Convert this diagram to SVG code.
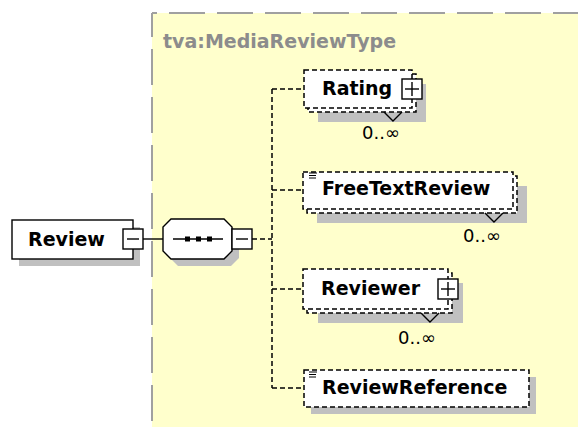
<svg xmlns="http://www.w3.org/2000/svg" width="578" height="427" viewBox="0 0 578 427">
<style>
.lbl{font-family:"DejaVu Sans","Liberation Sans",sans-serif;font-weight:bold;font-size:19px;fill:#000}
.occ{font-family:"DejaVu Sans","Liberation Sans",sans-serif;font-size:18px;fill:#000}
.shadow{fill:#c0c0c0;stroke:none}
.box{fill:#fff;stroke:#000;stroke-width:1.4}
.dbox{fill:#fff;stroke:#000;stroke-width:1.5;stroke-dasharray:5,3}
.dline{fill:none;stroke:#000;stroke-width:1.5;stroke-dasharray:5,3}
.sline{fill:none;stroke:#000;stroke-width:1.4}
.icon{stroke:#000;stroke-width:1}
</style>
<rect x="0" y="0" width="578" height="427" fill="#fff"/>
<g id="type-container">
<rect x="152" y="13" width="426" height="414" fill="#ffffcc"/>
<line x1="152" y1="13" x2="578" y2="13" stroke="#a0a0a0" stroke-width="2" stroke-dasharray="36,12" stroke-dashoffset="31"/>
<line x1="152" y1="13" x2="152" y2="427" stroke="#a0a0a0" stroke-width="2" stroke-dasharray="36,12" stroke-dashoffset="12"/>
<text x="163" y="48" font-family="DejaVu Sans, Liberation Sans, sans-serif" font-weight="bold" font-size="19" fill="#8c8c8c">tva:MediaReviewType</text>
</g>
<g id="connectors">
<line class="sline" x1="143" y1="239" x2="163" y2="239"/>
<line class="dline" x1="252" y1="239" x2="272" y2="239"/>
<line class="dline" x1="272" y1="89" x2="272" y2="388"/>
<line class="dline" x1="272" y1="89" x2="304" y2="89"/>
<line class="dline" x1="272" y1="190" x2="303" y2="190"/>
<line class="dline" x1="272" y1="289" x2="303" y2="289"/>
<line class="dline" x1="272" y1="388" x2="304" y2="388"/>
</g>
<g id="review">
<rect class="shadow" x="19" y="227" width="121" height="39"/>
<rect class="box" x="12" y="220" width="121" height="39"/>
<text class="lbl" x="28" y="246">Review</text>
<rect class="box" x="123" y="229" width="20" height="20"/>
<line class="sline" x1="127" y1="239" x2="139" y2="239"/>
</g>
<g id="sequence">
<path class="shadow" d="M178,226 L231,226 L239,234 L239,258 L231,266 L178,266 L170,258 L170,234 Z"/>
<path class="box" d="M171,219 L224,219 L232,227 L232,251 L224,259 L171,259 L163,251 L163,227 Z"/>
<line class="sline" x1="173" y1="239" x2="223" y2="239"/>
<rect x="185" y="236.5" width="5" height="5" fill="#000"/>
<rect x="196" y="236.5" width="5" height="5" fill="#000"/>
<rect x="207" y="236.5" width="5" height="5" fill="#000"/>
<rect class="box" x="232" y="229" width="20" height="20"/>
<line class="sline" x1="236" y1="239" x2="248" y2="239"/>
</g>
<g id="rating">
<rect class="shadow" x="318" y="84" width="108" height="38"/>
<rect class="dbox" x="308" y="74" width="108" height="38"/>
<rect class="dbox" x="304" y="70" width="108" height="38"/>
<text class="lbl" x="322" y="95">Rating</text>
<rect class="box" x="402" y="79" width="20" height="20"/>
<line class="sline" x1="405" y1="89" x2="419" y2="89"/>
<line class="sline" x1="412" y1="82" x2="412" y2="96"/>
<polyline class="sline" points="384,112 393,121 402,112"/>
<text class="occ" x="362" y="139">0..∞</text>
</g>
<g id="freetextreview">
<rect class="shadow" x="317" y="186" width="210" height="37"/>
<rect class="dbox" x="307" y="176" width="210" height="37"/>
<rect class="dbox" x="303" y="172" width="210" height="37"/>
<line class="icon" x1="309" y1="173" x2="317" y2="173"/>
<line class="icon" x1="309" y1="175.5" x2="316" y2="175.5"/>
<line class="icon" x1="309" y1="178" x2="316" y2="178"/>
<text class="lbl" x="322" y="195">FreeTextReview</text>
<polyline class="sline" points="485,213 494,222 503,213"/>
<text class="occ" x="463" y="242">0..∞</text>
</g>
<g id="reviewer">
<rect class="shadow" x="318" y="283" width="145" height="40"/>
<rect class="dbox" x="307" y="273" width="145" height="40"/>
<rect class="dbox" x="303" y="269" width="145" height="40"/>
<text class="lbl" x="321" y="295">Reviewer</text>
<rect class="box" x="438" y="279" width="20" height="20"/>
<line class="sline" x1="441" y1="289" x2="455" y2="289"/>
<line class="sline" x1="448" y1="282" x2="448" y2="296"/>
<polyline class="sline" points="421,313 430,322 439,313"/>
<text class="occ" x="398" y="344">0..∞</text>
</g>
<g id="reviewreference">
<rect class="shadow" x="311" y="377" width="225" height="37"/>
<rect class="dbox" x="304" y="370" width="225" height="37"/>
<line class="icon" x1="309" y1="372" x2="317" y2="372"/>
<line class="icon" x1="309" y1="374.5" x2="316" y2="374.5"/>
<line class="icon" x1="309" y1="377" x2="316" y2="377"/>
<text class="lbl" x="322" y="394">ReviewReference</text>
</g>
</svg>
